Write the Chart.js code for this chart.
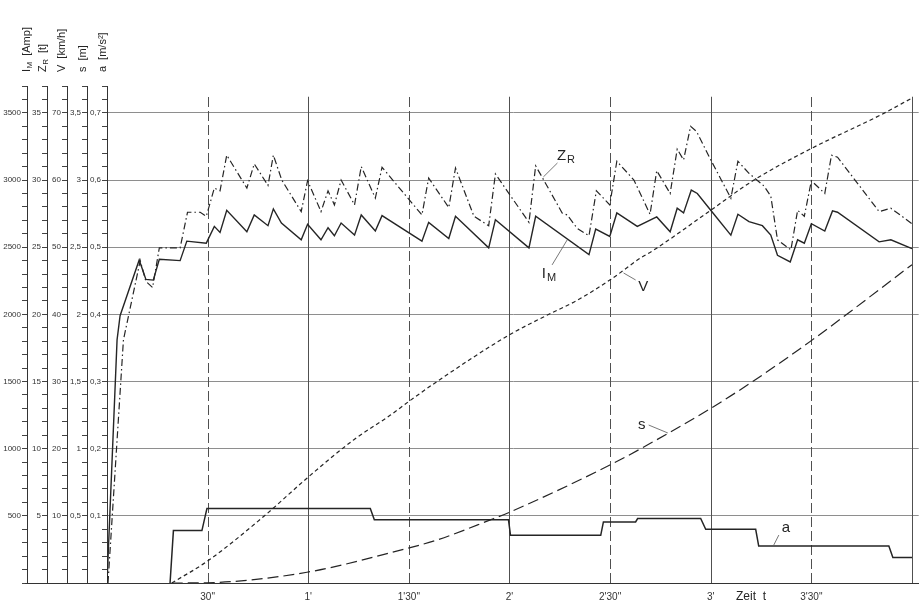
<!DOCTYPE html>
<html lang="de">
<head>
<meta charset="UTF-8">
<title>Anfahrdiagramm</title>
<script src="https://cdn.jsdelivr.net/npm/chart.js"></script>
<style>
  body { margin: 0; background: #fff; }
  .wrap { width: 920px; height: 605px; position: relative; }
</style>
</head>
<body>
<div class="wrap"><canvas id="anfahrChart"></canvas></div>
<script>
  // Motorstrom I_M [A]
  const tStrom = [0, 3.0, 3.9, 9.6, 11.6, 13.8, 15.6, 21.8, 23.8, 29.6, 32, 33.7, 35.7, 41.7, 43.9, 48, 49.6, 52,
    57.9, 59.8, 63.8, 65.9, 67.8, 69.8, 73.8, 75.8, 80, 82, 93.9, 95.9, 101.9, 103.9, 113.8, 115.8, 125.8, 127.8,
    143.7, 145.7, 149.9, 152, 158.1, 163.9, 167.9, 170, 171.9, 174.2, 176, 180, 186, 188.1, 191.4, 195.4, 197.9,
    199.9, 203.7, 205.9, 207.9, 210, 214, 216.3, 217.8, 230.2, 233.7, 240];
  const strom = [0, 1810, 1990, 2405, 2260, 2255, 2410, 2400, 2545, 2530, 2655, 2610, 2775, 2615, 2740, 2660, 2785, 2680,
    2555, 2670, 2555, 2645, 2585, 2680, 2590, 2740, 2620, 2735, 2545, 2685, 2565, 2730, 2495, 2705, 2495, 2730,
    2445, 2635, 2580, 2755, 2655, 2725, 2615, 2790, 2755, 2925, 2900, 2775, 2590, 2745, 2690, 2660, 2590,
    2440, 2390, 2555, 2530, 2675, 2620, 2770, 2760, 2540, 2555, 2490];

  // Zugkraft Z_R [t]
  const tZug = [0.3, 4.9, 9.9, 11.6, 13.6, 15.6, 21.8, 24, 27.8, 29.6, 32, 33.7, 35.7, 41.7, 43.9, 48, 49.6, 52.1,
    57.9, 59.8, 63.8, 65.9, 67.8, 69.8, 73.8, 75.8, 80, 82, 93.9, 95.9, 101.9, 103.9, 109.4, 113.8, 115.8, 125.8,
    127.8, 129.3, 135.7, 137.2, 140.2, 143.7, 145.9, 149.9, 152, 157.1, 161.9, 163.9, 167.9, 170, 171.9, 174,
    175.8, 180, 186, 188.1, 191.4, 195.9, 197.9, 199.9, 203.9, 205.9, 207.9, 210, 214, 216, 217.8, 230.2, 233.7, 240];
  const zug = [0, 18.1, 24.0, 22.45, 22.0, 24.95, 24.95, 27.6, 27.6, 27.3, 29.4, 29.2, 31.85, 29.4, 31.2, 29.6, 31.85, 30.0,
    27.65, 29.95, 27.65, 29.2, 28.15, 30.0, 28.15, 31.0, 28.65, 30.95, 27.4, 30.15, 27.95, 30.9, 27.3, 26.6, 30.45, 26.85,
    31.05, 30.4, 27.55, 27.4, 26.4, 25.85, 29.2, 28.15, 31.4, 30.0, 27.45, 30.7, 29.0, 32.3, 31.5, 34.0,
    33.6, 31.5, 28.65, 31.4, 30.5, 29.55, 28.8, 25.55, 24.8, 27.75, 27.3, 29.95, 29.0, 31.85, 31.7, 27.65, 27.9, 26.75];

  // Geschwindigkeit V [km/h]
  const tGeschw = [19.3, 29.8, 46.7, 59.6, 73.5, 84.5, 89.9, 98.4, 119.8, 131.3, 140.2, 149.9, 159.1, 163.1, 180, 192.9, 210, 230.7, 240];
  const geschw = [0, 3.2, 9.9, 15.6, 21.3, 25.0, 27.0, 30.0, 36.9, 39.9, 42.1, 45.1, 48.4, 49.6, 55.5, 60.0, 64.7, 69.7, 72.2];

  // Weg s
  const tWeg = [19.3, 29.8, 59.6, 87.5, 98.4, 114.3, 120.3, 150.1, 162, 180, 191.9, 210.3, 240];
  const weg = [0, 0.002, 0.08, 0.245, 0.32, 0.47, 0.53, 0.88, 1.04, 1.30, 1.49, 1.81, 2.37];

  // Beschleunigung a [m/s2]
  const tBeschl = [18.8, 19.8, 28.3, 29.8, 78.5, 79.7, 119.7, 120.3, 147.2, 148, 157.6, 158.2, 177, 178.5, 193.4, 194.3, 233.1, 234.3, 240];
  const beschl = [0, 0.078, 0.078, 0.111, 0.111, 0.094, 0.094, 0.071, 0.071, 0.091, 0.091, 0.096, 0.096, 0.080, 0.080, 0.055, 0.055, 0.038, 0.038];

  // Zeitachse
  const zeitWerte = [30, 60, 90, 120, 150, 180, 210];
  const zeitLabels = ['30"', "1'", "1'30\"", "2'", "2'30\"", "3'", "3'30\""];
  const zeitGitter = [30, 60, 90, 120, 150, 180, 210, 240];

  const ink = '#252525';
  const fmt = v => String(Math.round(v * 100) / 100).replace('.', ',');
  const pts = (xs, ys) => xs.map((x, i) => ({ x: x, y: ys[i] }));

  function leftAxis(max, step, weight, gridOn, width) {
    return {
      type: 'linear', position: 'left', min: 0, max: max, weight: weight,
      afterFit: s => { s.width = width; },
      border: { color: '#333', width: 1 },
      grid: {
        drawOnChartArea: gridOn,
        color: c => (c.index % 5 === 0 && c.index > 0) ? '#8e8e8e' : 'rgba(0,0,0,0)',
        tickColor: '#444', tickLength: 5, lineWidth: 1
      },
      ticks: {
        stepSize: step, autoSkip: false, maxTicksLimit: 100, padding: 1,
        color: '#333', font: { family: 'Liberation Sans', size: 8 },
        callback: (v, i) => (i % 5 === 0 && i > 0) ? fmt(v) : ''
      }
    };
  }

  // Beschriftungen an den Kurven (Zeit, Wert auf I_M-Skala)
  const kurvenNotiz = [
    { main: 'Z', sub: 'R', t: 136.7, v: 3180, lead: [134.3, 3127, 130.1, 3023] },
    { main: 'I', sub: 'M', t: 131.6, v: 2305, lead: [132.7, 2368, 137.2, 2554] },
    { main: 'V', sub: '', t: 159.9, v: 2208, lead: [157.6, 2256, 154, 2308] },
    { main: 's', sub: '', t: 159.4, v: 1176, lead: [161.5, 1176, 167.2, 1117] },
    { main: 'a', sub: '', t: 202.4, v: 410, lead: [200.3, 357, 198.8, 283] }
  ];

  const achsTitel = [
    { axis: 'yIM', main: 'I', sub: 'M', unit: '[Amp]', dx: 3 },
    { axis: 'yZR', main: 'Z', sub: 'R', unit: '[t]', dx: -1 },
    { axis: 'yV', main: 'V', sub: '', unit: '[km/h]', dx: -2 },
    { axis: 'yS', main: 's', sub: '', unit: '[m]', dx: -1 },
    { axis: 'yA', main: 'a', sub: '', unit: '[m/s²]', dx: -1 }
  ];

  function textMitIndex(ctx, main, sub, x, y, size) {
    ctx.font = size + 'px "Liberation Sans"';
    const w1 = ctx.measureText(main).width;
    ctx.font = Math.round(size * 0.75) + 'px "Liberation Sans"';
    const w2 = sub ? ctx.measureText(sub).width : 0;
    const x0 = x - (w1 + w2) / 2;
    ctx.font = size + 'px "Liberation Sans"';
    ctx.fillText(main, x0, y);
    if (sub) {
      ctx.font = Math.round(size * 0.75) + 'px "Liberation Sans"';
      ctx.fillText(sub, x0 + w1 + 1, y + size * 0.3);
    }
  }

  // senkrechte Zeitlinien: volle Minuten durchgezogen, halbe gestrichelt
  const zeitLinien = {
    id: 'zeitLinien',
    beforeDatasetsDraw(chart) {
      const { ctx, scales, chartArea } = chart;
      const top = scales.yIM.getPixelForValue(3620);
      ctx.save();
      ctx.strokeStyle = '#505050';
      ctx.lineWidth = 1;
      zeitGitter.forEach(t => {
        const x = Math.round(scales.x.getPixelForValue(t)) + 0.5;
        ctx.setLineDash(t % 60 === 0 ? [] : [10, 4]);
        ctx.beginPath();
        ctx.moveTo(x, chartArea.bottom);
        ctx.lineTo(x, top);
        ctx.stroke();
      });
      ctx.restore();
    }
  };

  const beschriftung = {
    id: 'beschriftung',
    afterDraw(chart) {
      const { ctx, scales, chartArea } = chart;
      const xs = scales.x, ys = scales.yIM;
      ctx.save();
      ctx.fillStyle = ink;
      ctx.textBaseline = 'middle';
      ctx.textAlign = 'left';

      // Grundlinie bis zur ersten Achse verlängern
      ctx.strokeStyle = '#333';
      ctx.lineWidth = 1;
      ctx.beginPath();
      ctx.moveTo(ys.right - 2, chartArea.bottom + 0.5);
      ctx.lineTo(chartArea.left, chartArea.bottom + 0.5);
      ctx.stroke();

      // Kurvenbeschriftung
      ctx.strokeStyle = '#555';
      ctx.lineWidth = 0.8;
      kurvenNotiz.forEach(n => {
        ctx.beginPath();
        ctx.moveTo(xs.getPixelForValue(n.lead[0]), ys.getPixelForValue(n.lead[1]));
        ctx.lineTo(xs.getPixelForValue(n.lead[2]), ys.getPixelForValue(n.lead[3]));
        ctx.stroke();
        textMitIndex(ctx, n.main, n.sub, xs.getPixelForValue(n.t), ys.getPixelForValue(n.v), 15);
      });

      // Achstitel oben, gedreht
      achsTitel.forEach(a => {
        const sc = scales[a.axis];
        ctx.save();
        ctx.translate(sc.right + a.dx - 3, chartArea.top - 14);
        ctx.rotate(-Math.PI / 2);
        ctx.textAlign = 'left';
        ctx.font = '11px "Liberation Sans"';
        ctx.fillText(a.main, 0, 0);
        let w = ctx.measureText(a.main).width;
        if (a.sub) {
          ctx.font = '8px "Liberation Sans"';
          ctx.fillText(a.sub, w + 0.5, 3);
          w += ctx.measureText(a.sub).width + 0.5;
        }
        ctx.font = '11px "Liberation Sans"';
        ctx.fillText(a.unit, w + 6, 0);
        ctx.restore();
      });

      // Zeit t
      ctx.textAlign = 'center';
      ctx.font = '12px "Liberation Sans"';
      ctx.fillText('Zeit  t', xs.getPixelForValue(192), chartArea.bottom + 14);
      ctx.restore();
    }
  };

  new Chart(document.getElementById('anfahrChart'), {
    type: 'line',
    data: {
      datasets: [
        { label: 'I_M', data: pts(tStrom, strom), yAxisID: 'yIM', borderColor: ink, borderWidth: 1.4 },
        { label: 'Z_R', data: pts(tZug, zug), yAxisID: 'yZR', borderColor: ink, borderWidth: 1.2, borderDash: [7, 3, 1.5, 3] },
        { label: 'V', data: pts(tGeschw, geschw), yAxisID: 'yV', borderColor: ink, borderWidth: 1.2, borderDash: [4, 3], cubicInterpolationMode: 'monotone' },
        { label: 's', data: pts(tWeg, weg), yAxisID: 'yS', borderColor: ink, borderWidth: 1.2, borderDash: [11, 5], cubicInterpolationMode: 'monotone' },
        { label: 'a', data: pts(tBeschl, beschl), yAxisID: 'yA', borderColor: ink, borderWidth: 1.5 }
      ]
    },
    options: {
      responsive: true,
      maintainAspectRatio: false,
      animation: false,
      elements: { point: { radius: 0 }, line: { tension: 0, fill: false } },
      layout: { padding: { left: 0, right: 1, top: 86, bottom: 0 } },
      plugins: { legend: { display: false }, tooltip: { enabled: false } },
      scales: {
        x: {
          type: 'linear', position: 'bottom', min: 0, max: 242,
          afterFit: s => { s.height = 22; },
          border: { display: true, color: '#333', width: 1 },
          grid: { display: true, drawOnChartArea: false, drawTicks: false, color: 'rgba(0,0,0,0)' },
          ticks: {
            stepSize: 30, includeBounds: false, autoSkip: false, maxRotation: 0, padding: 8,
            color: '#333', font: { family: 'Liberation Sans', size: 10 },
            callback: v => {
              const i = zeitWerte.indexOf(v);
              return i >= 0 ? zeitLabels[i] : '';
            }
          }
        },
        yIM: leftAxis(3700, 100, 5, true, 27),
        yZR: leftAxis(37, 1, 4, false, 20),
        yV: leftAxis(74, 2, 3, false, 20),
        yS: leftAxis(3.7, 0.1, 2, false, 20),
        yA: leftAxis(0.74, 0.02, 1, false, 20)
      }
    },
    plugins: [zeitLinien, beschriftung]
  });
</script>
</body>
</html>
